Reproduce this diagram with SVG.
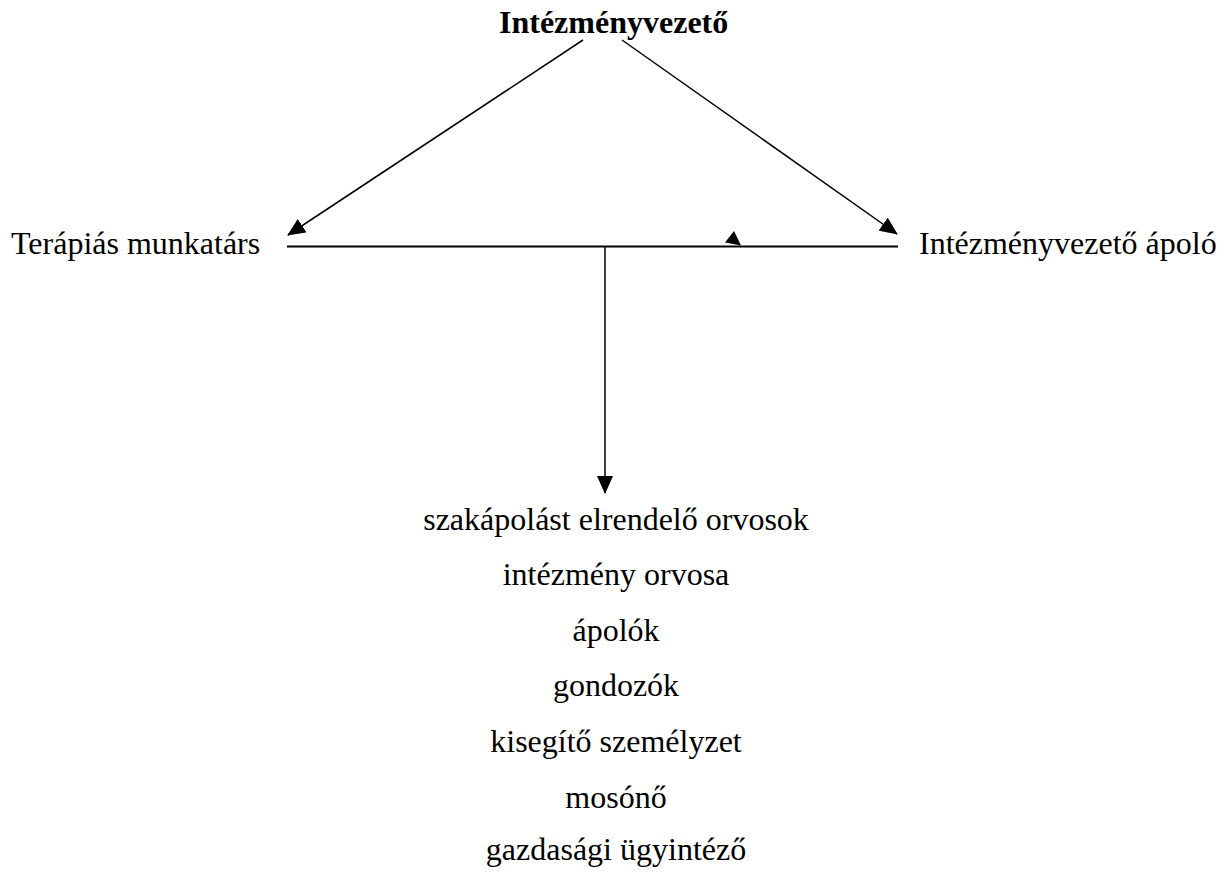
<svg xmlns="http://www.w3.org/2000/svg" width="1230" height="872" viewBox="0 0 1230 872">
<defs>
<style>
text{font-family:"Liberation Serif","Times New Roman",serif;font-size:32px;fill:#000}
.b{font-weight:bold}
.c{text-anchor:middle}
.ln{stroke:#000;fill:none;stroke-width:1.5}
</style>
<marker id="ah" markerWidth="12" markerHeight="10" refX="11" refY="5" orient="auto" markerUnits="userSpaceOnUse" viewBox="0 0 12 10">
<path d="M0,0 L12,5 L0,10 Z" fill="#000"/>
</marker>
<marker id="ahb" markerWidth="18" markerHeight="16" refX="17" refY="8" orient="auto" markerUnits="userSpaceOnUse" viewBox="0 0 18 16">
<path d="M0,0 L18,8 L0,16 Z" fill="#000"/>
</marker>
</defs>
<rect width="1230" height="872" fill="#fff"/>
<g id="connectors">
<line class="ln" x1="583" y1="40" x2="288" y2="235" marker-end="url(#ahb)"/>
<line class="ln" x1="622" y1="40" x2="897" y2="234" marker-end="url(#ahb)"/>
<line class="ln" x1="287" y1="246.5" x2="898" y2="246.5" style="stroke-width:2"/>
<polygon points="734,231 725,242.5 741,245.5" fill="#000"/>
<line class="ln" x1="605" y1="247" x2="605" y2="493" marker-end="url(#ahb)"/>
</g>
<g id="node-top"><text class="b" x="499" y="33">Intézményvezető</text></g>
<g id="node-left"><text x="11" y="254">Terápiás munkatárs</text></g>
<g id="node-right"><text x="919" y="254">Intézményvezető ápoló</text></g>
<g id="node-bottom">
<text class="c" x="616" y="530">szakápolást elrendelő orvosok</text>
<text class="c" x="616" y="585">intézmény orvosa</text>
<text class="c" x="616" y="641">ápolók</text>
<text class="c" x="616" y="696">gondozók</text>
<text class="c" x="616" y="752">kisegítő személyzet</text>
<text class="c" x="616" y="808">mosónő</text>
<text class="c" x="616" y="860">gazdasági ügyintéző</text>
</g>
</svg>
